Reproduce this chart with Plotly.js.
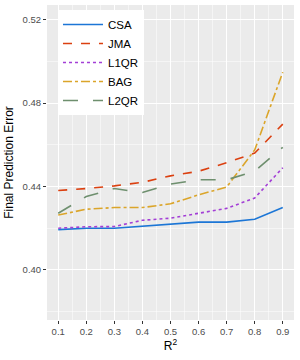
<!DOCTYPE html>
<html>
<head>
<meta charset="utf-8">
<script src="https://cdn.plot.ly/plotly-3.0.1.min.js"></script>
<style>html,body{margin:0;padding:0;background:#fff;}#chart{width:300px;height:360px;}</style>
</head>
<body>
<div id="chart"></div>
<script>
const r2 = [0.1, 0.2, 0.3, 0.4, 0.5, 0.6, 0.7, 0.8, 0.9];
const seriesNames = ["CSA", "JMA", "L1QR", "BAG", "L2QR"];
const csa  = [0.4193, 0.4200, 0.4200, 0.4210, 0.4221, 0.4229, 0.4229, 0.4243, 0.4299];
const jma  = [0.4381, 0.4390, 0.4403, 0.4420, 0.4451, 0.4473, 0.4514, 0.4560, 0.4699];
const l1qr = [0.4200, 0.4207, 0.4208, 0.4238, 0.4248, 0.4272, 0.4295, 0.4345, 0.4490];
const bag  = [0.4263, 0.4291, 0.4299, 0.4299, 0.4317, 0.4360, 0.4397, 0.4575, 0.4948];
const l2qr = [0.4272, 0.4352, 0.4390, 0.4371, 0.4412, 0.4432, 0.4432, 0.4473, 0.4588];
const yTicks = [0.40, 0.44, 0.48, 0.52];
const xTicks = r2;

const values = [csa, jma, l1qr, bag, l2qr];
const colors = ["#1C76D6", "#DB4010", "#A33FD6", "#DBA52A", "#6E8F6E"];
const dashes = ["solid", "dash", "dot", "dashdot", "longdash"];

const traces = seriesNames.map((n, i) => ({
  x: r2, y: values[i], name: n, type: "scatter", mode: "lines",
  line: {color: colors[i], width: 1.6, dash: dashes[i]}
}));

const layout = {
  width: 300, height: 360,
  margin: {l: 47, r: 6, t: 5, b: 40},
  paper_bgcolor: "#ffffff",
  plot_bgcolor: "#EBEBEB",
  font: {family: "Liberation Sans, Arial, sans-serif", color: "#000"},
  xaxis: {
    range: [0.06, 0.94],
    tickvals: xTicks, ticktext: xTicks.map(v => v.toFixed(1)),
    ticks: "outside", ticklen: 3, tickcolor: "#333333", tickwidth: 1,
    tickfont: {size: 9.5, color: "#4D4D4D"},
    showgrid: true, gridcolor: "#ffffff", gridwidth: 1.1,
    minor: {tickvals: [0.05,0.15,0.25,0.35,0.45,0.55,0.65,0.75,0.85,0.95], showgrid: true, gridcolor: "#ffffff", gridwidth: 0.5, ticks: ""},
    zeroline: false, showline: false,
    title: {text: "R<sup>2</sup>", font: {size: 12}, standoff: 4}
  },
  yaxis: {
    range: [0.376, 0.527],
    tickvals: yTicks, ticktext: yTicks.map(v => v.toFixed(2)),
    ticks: "outside", ticklen: 3, tickcolor: "#333333", tickwidth: 1,
    tickfont: {size: 9.5, color: "#4D4D4D"},
    showgrid: true, gridcolor: "#ffffff", gridwidth: 1.1,
    minor: {tickvals: [0.38, 0.42, 0.46, 0.50], showgrid: true, gridcolor: "#ffffff", gridwidth: 0.5, ticks: ""},
    zeroline: false, showline: false,
    title: {text: "Final Prediction Error", font: {size: 12}, standoff: 6}
  },
  showlegend: true,
  legend: {
    x: 0.0445, y: 0.984, xanchor: "left", yanchor: "top",
    bgcolor: "#ffffff", borderwidth: 0,
    font: {size: 11.5, color: "#000"},
    tracegroupgap: 0, itemwidth: 40
  }
};

Plotly.newPlot("chart", traces, layout, {staticPlot: true, displayModeBar: false});
</script>
</body>
</html>
